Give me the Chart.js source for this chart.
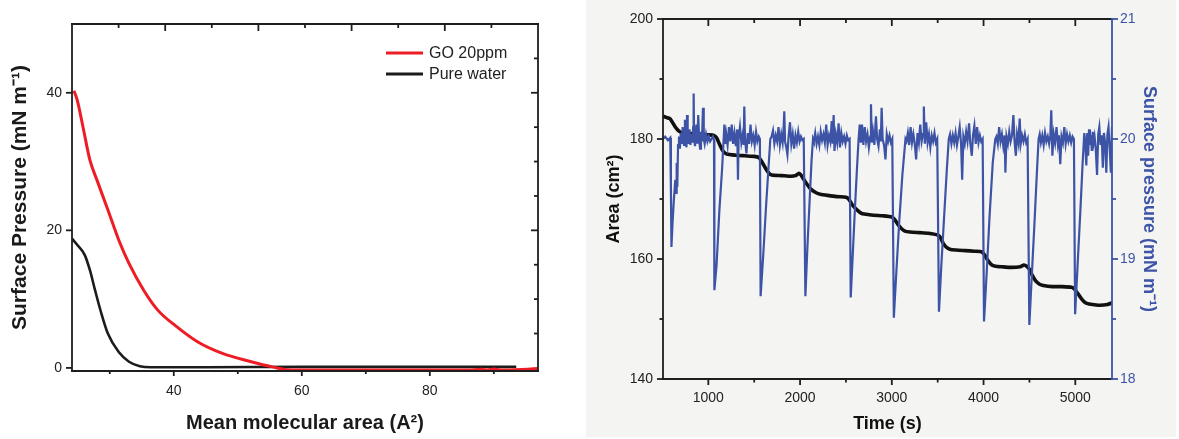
<!DOCTYPE html>
<html>
<head>
<meta charset="utf-8">
<script src="https://cdn.jsdelivr.net/npm/chart.js@4.4.1/dist/chart.umd.min.js"></script>
<style>
  html, body { margin: 0; padding: 0; background: #fff; }
  body { width: 1179px; height: 439px; position: relative; overflow: hidden; }
  #isoBox { position: absolute; left: 0; top: 0; width: 575px; height: 439px; }
  #timeBox { position: absolute; left: 586px; top: 0; width: 590px; height: 437px; background: #f4f4f3; }
</style>
</head>
<body>
<div id="isoBox"><canvas id="isoChart" width="575" height="439"></canvas></div>
<div id="timeBox"><canvas id="timeChart" width="590" height="437"></canvas></div>
<script>
// ---------- DATA : left panel (isotherms) ----------
var seriesNames = ["GO 20ppm", "Pure water"];

var goArea     = [24.4, 24.9, 25.8, 26.9, 28.0, 29.7, 31.4, 33.0, 35.3, 37.5, 40.3, 43.7, 47.6, 52.1, 55.4, 57.7, 62, 70, 80, 86, 88, 89, 90, 91, 92, 96.9];
var goPressure = [40.3, 39.0, 35.1, 30.2, 27.3, 23.0, 18.6, 15.2, 11.3, 8.4, 6.1, 3.8, 2.1, 0.9, 0.15, -0.25, -0.3, -0.3, -0.3, -0.3, -0.2, -0.3, -0.15, -0.3, -0.3, -0.1];

var waterArea     = [24.1, 24.9, 26.1, 26.9, 27.7, 28.6, 29.7, 31.4, 33.0, 34.7, 36.4, 45, 60, 75, 93.5];
var waterPressure = [18.8, 17.9, 16.4, 14.2, 11.3, 8.2, 5.0, 2.3, 0.9, 0.25, 0.1, 0.1, 0.15, 0.15, 0.15];

var isoXTicks = [40, 60, 80];
var isoXMinor = [30, 50, 70, 90];
var isoYTicks = [0, 20, 40];

// ---------- DATA : right panel (area and pressure vs time) ----------
var areaTime = [506, 540, 580, 600, 640, 680, 720, 800, 900, 1000, 1060, 1090, 1120, 1160, 1200, 1300, 1400, 1500, 1550, 1580, 1620, 1660, 1690, 1800, 1900, 1950, 1990, 2010, 2060, 2120, 2180, 2220, 2300, 2400, 2500, 2530, 2570, 2620, 2670, 2700, 2800, 2900, 3000, 3030, 3070, 3110, 3150, 3200, 3300, 3400, 3500, 3530, 3560, 3600, 3640, 3700, 3800, 3900, 3980, 4010, 4050, 4090, 4130, 4200, 4300, 4400, 4440, 4470, 4500, 4530, 4570, 4610, 4650, 4750, 4850, 4960, 4990, 5030, 5070, 5110, 5150, 5250, 5350, 5400];
var areaVal  = [183.8, 183.6, 183.4, 183.0, 182.0, 181.3, 181.0, 180.9, 180.8, 180.7, 180.6, 180.2, 179.2, 178.0, 177.5, 177.3, 177.2, 177.1, 176.9, 176.3, 175.2, 174.3, 174.0, 173.9, 173.8, 173.9, 174.3, 174.0, 172.8, 171.6, 171.0, 170.8, 170.6, 170.4, 170.3, 170.0, 169.0, 168.2, 167.6, 167.5, 167.3, 167.2, 167.0, 166.6, 165.7, 165.0, 164.6, 164.5, 164.4, 164.3, 164.0, 163.6, 162.6, 161.9, 161.6, 161.5, 161.4, 161.3, 161.2, 160.7, 159.7, 159.0, 158.8, 158.7, 158.6, 158.7, 159.0, 158.8, 158.3, 157.3, 156.3, 155.8, 155.6, 155.4, 155.4, 155.3, 155.0, 154.2, 153.3, 152.7, 152.5, 152.3, 152.4, 152.7];

var pressureTime = [
  506, 530, 560, 585, 592, 598, 610, 625, 640, 648, 655, 662, 670, 680, 690, 700, 712, 720, 735, 745, 755, 762, 768, 775, 785, 795, 805, 815, 825, 835, 840, 845, 855, 870, 880, 890, 900, 910, 920, 930, 942, 950, 960, 975, 990, 1005, 1020, 1035, 1050, 1062,
  1066, 1090, 1120, 1150, 1167,
  1175, 1185, 1195, 1210, 1225, 1240, 1255, 1270, 1285, 1300, 1315, 1323, 1330, 1345, 1360, 1375, 1385, 1392, 1400, 1415, 1430, 1445, 1460, 1475, 1490, 1505, 1520, 1535, 1550, 1562,
  1570, 1600, 1630, 1655, 1676,
  1690, 1705, 1720, 1735, 1750, 1765, 1780, 1795, 1810, 1820, 1828, 1836, 1850, 1862, 1875, 1890, 1905, 1920, 1935, 1950, 1965, 1980, 1995, 2010, 2025, 2040,
  2058, 2080, 2105, 2125, 2141,
  2150, 2165, 2180, 2195, 2210, 2225, 2240, 2255, 2270, 2285, 2300, 2315, 2330, 2345, 2355, 2366, 2375, 2390, 2405, 2420, 2435, 2450, 2465, 2480, 2495, 2510, 2525, 2540,
  2552, 2575, 2600, 2620, 2638,
  2650, 2662, 2675, 2690, 2705, 2720, 2735, 2750, 2765, 2773, 2782, 2795, 2810, 2827, 2840, 2855, 2870, 2880, 2889, 2900, 2915, 2931, 2945, 2960, 2975, 2990, 3005,
  3022, 3050, 3080, 3115, 3149,
  3160, 3175, 3190, 3205, 3220, 3235, 3250, 3265, 3280, 3295, 3310, 3325, 3340, 3349, 3360, 3375, 3390, 3405, 3420, 3435, 3450, 3465, 3480, 3495,
  3514, 3540, 3570, 3600, 3621,
  3635, 3650, 3665, 3680, 3695, 3710, 3725, 3740, 3755, 3767, 3780, 3795, 3810, 3825, 3842, 3855, 3872, 3885, 3900, 3915, 3930, 3945, 3960, 3975, 3990,
  4005, 4035, 4065, 4100, 4128,
  4140, 4155, 4170, 4185, 4200, 4215, 4230, 4238, 4250, 4265, 4280, 4295, 4310, 4325, 4338, 4352, 4365, 4380, 4394, 4405, 4420, 4435, 4450, 4465, 4480,
  4499, 4525, 4555, 4580, 4600,
  4612, 4625, 4640, 4655, 4670, 4685, 4700, 4715, 4728, 4738, 4750, 4765, 4780, 4795, 4810, 4822, 4836, 4850, 4865, 4880, 4895, 4910, 4925, 4940, 4955, 4970, 4985,
  4998, 5025, 5055, 5080, 5098,
  5108, 5120, 5130, 5140, 5150, 5160, 5170, 5180, 5190, 5200, 5210, 5222, 5237, 5250, 5262, 5275, 5288, 5300, 5312, 5325, 5338, 5350, 5362, 5375, 5388, 5400
];
var pressureVal = [
  20.0, 20.02, 19.99, 20.01, 19.6, 19.1, 19.3, 19.5, 19.66, 19.55, 19.8, 19.6, 19.95, 20.02, 19.92, 20.05, 19.96, 20.1, 19.95, 20.16, 20.0, 19.93, 20.2, 20.03, 19.96, 20.08, 19.95, 20.04, 19.97, 20.1, 20.38, 20.0, 19.94, 20.12, 19.96, 20.2, 20.0, 19.92, 20.06, 19.98, 20.26, 20.0, 19.96, 20.04, 19.98, 20.02, 19.98, 20.0, 20.02, 19.99,
  18.74, 18.95, 19.4, 19.75, 20.0,
  20.12, 19.96, 20.04, 19.95, 20.1, 19.98, 20.12, 19.96, 20.05, 19.94, 20.08, 19.66, 20.0, 20.1, 19.97, 20.04, 19.95, 20.27, 20.0, 19.88, 20.05, 19.96, 20.12, 19.98, 20.03, 19.95, 20.06, 19.98, 20.02, 20.0,
  18.69, 19.05, 19.45, 19.75, 20.0,
  20.02, 20.07, 19.96, 20.03, 19.98, 20.1, 19.95, 20.04, 19.97, 20.08, 20.23, 19.98, 19.93, 19.87, 20.02, 20.14, 19.96, 20.04, 19.92, 20.03, 19.97, 20.06, 19.98, 20.02, 19.99, 20.0,
  18.69, 19.1, 19.5, 19.82, 20.0,
  19.98, 20.05, 19.96, 20.02, 19.95, 20.06, 19.99, 20.04, 19.97, 20.12, 19.95, 20.03, 19.98, 20.15, 19.96, 20.2, 19.9, 20.04, 19.97, 20.13, 19.93, 20.05, 19.98, 20.02, 19.96, 20.03, 19.99, 20.0,
  18.68, 19.05, 19.45, 19.75, 20.0,
  20.12, 19.97, 20.12, 19.95, 20.1, 19.98, 20.04, 19.93, 20.02, 20.29, 19.97, 20.06, 19.95, 20.19, 20.0, 19.94, 20.08, 19.98, 20.26, 20.0, 19.95, 19.83, 20.04, 19.98, 20.03, 19.97, 20.0,
  18.51, 18.9, 19.3, 19.7, 20.0,
  19.98, 20.05, 19.95, 20.1, 19.97, 20.04, 19.96, 19.83, 20.05, 19.97, 20.12, 19.98, 20.04, 20.27, 19.96, 20.14, 19.97, 20.04, 19.93, 20.03, 19.98, 20.05, 19.97, 20.0,
  18.56, 18.95, 19.35, 19.75, 20.0,
  20.04, 19.96, 20.03, 19.97, 20.05, 19.95, 20.02, 20.1, 19.96, 19.66, 20.02, 19.96, 20.06, 19.98, 20.13, 19.97, 19.86, 20.03, 20.11, 19.96, 20.1, 19.97, 20.03, 19.98, 20.0,
  18.48, 18.9, 19.35, 19.8, 20.0,
  20.02, 19.96, 20.1, 19.98, 20.04, 19.94, 20.03, 19.72, 20.02, 19.96, 20.06, 19.98, 20.03, 20.2, 19.98, 19.86, 20.04, 19.97, 20.17, 19.96, 20.03, 19.98, 20.04, 19.97, 20.0,
  18.45, 18.85, 19.3, 19.7, 20.0,
  20.04, 19.97, 20.03, 19.95, 20.05, 19.98, 20.02, 19.96, 20.03, 20.24, 19.86, 20.04, 19.97, 20.1, 19.96, 20.03, 19.79, 20.02, 19.97, 20.1, 19.96, 20.04, 19.98, 20.03, 19.97, 20.02, 20.0,
  18.54, 18.95, 19.4, 19.8, 20.05,
  19.98, 19.78, 20.05, 19.86, 20.08, 19.95, 20.03, 19.9, 20.06, 19.97, 20.02, 19.93, 19.7, 20.04, 20.1, 19.95, 20.03, 19.76, 20.05, 19.97, 19.72, 20.04, 20.1, 19.92, 19.72, 20.1
];

var timeTicks      = [1000, 2000, 3000, 4000, 5000];
var timeMinor      = [1500, 2500, 3500, 4500];
var areaTicks      = [140, 160, 180, 200];
var areaMinor      = [150, 170, 190];
var pressureTicks  = [18, 19, 20, 21];
var pressureMinor  = [18.5, 19.5, 20.5];

function pts(xs, ys) {
  return xs.map(function (x, i) { return { x: x, y: ys[i] }; });
}
function fixTicks(values) {
  return function (s) { s.ticks = values.map(function (v) { return { value: v }; }); };
}
function plain(v) { return String(v); }

Chart.defaults.font.family = "'Liberation Sans', Arial, sans-serif";
Chart.defaults.color = "#222";
Chart.defaults.animation = false;

var INK = "#1e1e1e";
var BLUE = "#3d54a6";
var NOGRID = { display: false, drawTicks: false };

// ---------- FRAME / TICK MARKS PLUGIN ----------
function drawEdge(chart, e) {
  var ctx = chart.ctx, a = chart.chartArea;
  var horiz = e.edge === "top" || e.edge === "bottom";
  var base = a[e.edge];
  ctx.strokeStyle = e.color;
  ctx.lineWidth = e.width || 1.8;
  ctx.beginPath();
  if (horiz) { ctx.moveTo(a.left - 1, base); ctx.lineTo(a.right + 1, base); }
  else { ctx.moveTo(base, a.top - 1); ctx.lineTo(base, a.bottom + 1); }
  ctx.stroke();
  var out = (e.edge === "left" || e.edge === "top") ? -1 : 1;
  var dir = e.inward ? -out : out;
  var pix = function (v) {
    if (e.pixel) return e.pixel(v, a);
    return chart.scales[e.scale].getPixelForValue(v);
  };
  [[e.major || [], e.majorLen], [e.minor || [], e.minorLen]].forEach(function (g) {
    g[0].forEach(function (v) {
      var p = pix(v);
      ctx.beginPath();
      if (horiz) { ctx.moveTo(p, base); ctx.lineTo(p, base + dir * g[1]); }
      else { ctx.moveTo(base, p); ctx.lineTo(base + dir * g[1], p); }
      ctx.stroke();
    });
  });
}

var framePlugin = {
  id: "frame",
  afterDraw: function (chart, args, opts) {
    var ctx = chart.ctx;
    ctx.save();
    (opts.edges || []).forEach(function (e) { drawEdge(chart, e); });
    var lg = opts.legend;
    if (lg) {
      ctx.font = lg.font;
      ctx.textBaseline = "middle";
      ctx.textAlign = "left";
      chart.data.datasets.forEach(function (ds, i) {
        var y = lg.y + i * lg.gap;
        ctx.strokeStyle = ds.borderColor;
        ctx.lineWidth = 3;
        ctx.beginPath();
        ctx.moveTo(lg.x, y);
        ctx.lineTo(lg.x + lg.len, y);
        ctx.stroke();
        ctx.fillStyle = "#222";
        ctx.fillText(ds.label, lg.x + lg.len + 6, y + 1);
      });
    }
    ctx.restore();
  }
};

// ---------- LEFT CHART ----------
var isoCtx = document.getElementById("isoChart").getContext("2d");
var isoChart = new Chart(isoCtx, {
  type: "line",
  data: {
    datasets: [{
      label: seriesNames[0],
      data: pts(goArea, goPressure),
      borderColor: "#ee1c24",
      borderWidth: 3,
      pointRadius: 0,
      cubicInterpolationMode: "monotone"
    }, {
      label: seriesNames[1],
      data: pts(waterArea, waterPressure),
      borderColor: "#1c1c1c",
      borderWidth: 2.6,
      pointRadius: 0,
      cubicInterpolationMode: "monotone"
    }]
  },
  options: {
    responsive: false,
    layout: { padding: { top: 24, right: 37, left: 0, bottom: 0 } },
    plugins: {
      legend: { display: false },
      tooltip: { enabled: false },
      frame: {
        edges: [
          { edge: "left", scale: "y", color: INK, major: isoYTicks, majorLen: 6 },
          { edge: "bottom", scale: "x", color: INK, major: isoXTicks, majorLen: 5, minor: isoXMinor, minorLen: 3 },
          { edge: "top", color: INK, inward: true, major: [2, 4, 6, 8], majorLen: 7, minor: [1, 3, 5, 7, 9], minorLen: 4,
            pixel: function (k, a) { return a.left + k * (a.right - a.left) / 10; } },
          { edge: "right", scale: "y", color: INK, inward: true, major: [20, 40], majorLen: 7, minor: [5, 10, 15, 25, 30, 35, 45], minorLen: 4 }
        ],
        legend: { x: 386, y: 53, gap: 21, len: 37, font: "16px 'Liberation Sans', Arial, sans-serif" }
      }
    },
    scales: {
      x: {
        type: "linear",
        min: 24.1, max: 96.9,
        afterBuildTicks: fixTicks(isoXTicks),
        afterFit: function (s) { s.height = 68; },
        grid: NOGRID,
        border: { display: false },
        ticks: { padding: 12, font: { size: 14 }, color: "#222", callback: plain },
        title: { display: true, text: "Mean molecular area (A²)", font: { size: 20, weight: "bold" }, color: "#1a1a1a", padding: { top: 0, bottom: 4 } }
      },
      y: {
        type: "linear",
        min: -0.45, max: 50,
        afterBuildTicks: fixTicks(isoYTicks),
        afterFit: function (s) { s.width = 72; },
        grid: NOGRID,
        border: { display: false },
        ticks: { padding: 10, font: { size: 14 }, color: "#222", callback: plain },
        title: { display: true, text: "Surface Pressure (mN m⁻¹)", font: { size: 21, weight: "bold" }, color: "#1a1a1a", padding: { top: 8, bottom: 0 } }
      }
    }
  },
  plugins: [framePlugin]
});

// ---------- RIGHT CHART ----------
var timeCtx = document.getElementById("timeChart").getContext("2d");
var timeChart = new Chart(timeCtx, {
  type: "line",
  data: {
    datasets: [{
      label: "Surface pressure",
      data: pts(pressureTime, pressureVal),
      yAxisID: "y2",
      borderColor: BLUE,
      borderWidth: 2.2,
      pointRadius: 0,
      tension: 0
    }, {
      label: "Area",
      data: pts(areaTime, areaVal),
      yAxisID: "y",
      borderColor: "#111",
      borderWidth: 3.6,
      pointRadius: 0,
      tension: 0.2
    }]
  },
  options: {
    responsive: false,
    layout: { padding: { top: 19, right: 0, left: 0, bottom: 0 } },
    plugins: {
      legend: { display: false },
      tooltip: { enabled: false },
      frame: {
        edges: [
          { edge: "left", scale: "y", color: INK, major: areaTicks, majorLen: 6, minor: areaMinor, minorLen: 3.5 },
          { edge: "bottom", scale: "x", color: INK, major: timeTicks, majorLen: 6, minor: timeMinor, minorLen: 3.5 },
          { edge: "top", scale: "x", color: INK, inward: true, major: timeTicks, majorLen: 7, minor: timeMinor, minorLen: 4 },
          { edge: "right", scale: "y2", color: BLUE, major: pressureTicks, majorLen: 6, minor: pressureMinor, minorLen: 4 }
        ]
      }
    },
    scales: {
      x: {
        type: "linear",
        min: 506, max: 5400,
        afterBuildTicks: fixTicks(timeTicks),
        afterFit: function (s) { s.height = 58; },
        grid: NOGRID,
        border: { display: false },
        ticks: { padding: 11, font: { size: 14 }, color: "#222", callback: plain },
        title: { display: true, text: "Time (s)", font: { size: 18, weight: "bold" }, color: "#111", padding: { top: 0, bottom: 2 } }
      },
      y: {
        type: "linear",
        position: "left",
        min: 140, max: 200,
        afterBuildTicks: fixTicks(areaTicks),
        afterFit: function (s) { s.width = 77; },
        grid: NOGRID,
        border: { display: false },
        ticks: { padding: 10, font: { size: 14 }, color: "#222", callback: plain },
        title: { display: true, text: "Area (cm²)", font: { size: 18, weight: "bold" }, color: "#111", padding: { top: 17, bottom: 0 } }
      },
      y2: {
        type: "linear",
        position: "right",
        min: 18, max: 21,
        afterBuildTicks: fixTicks(pressureTicks),
        afterFit: function (s) { s.width = 64; },
        grid: NOGRID,
        border: { display: false },
        ticks: { padding: 8, font: { size: 14 }, color: BLUE, callback: plain },
        title: { display: true, text: "Surface pressure (mN m⁻¹)", font: { size: 18, weight: "bold" }, color: BLUE, padding: { top: 16, bottom: 0 } }
      }
    }
  },
  plugins: [framePlugin]
});
</script>
</body>
</html>
